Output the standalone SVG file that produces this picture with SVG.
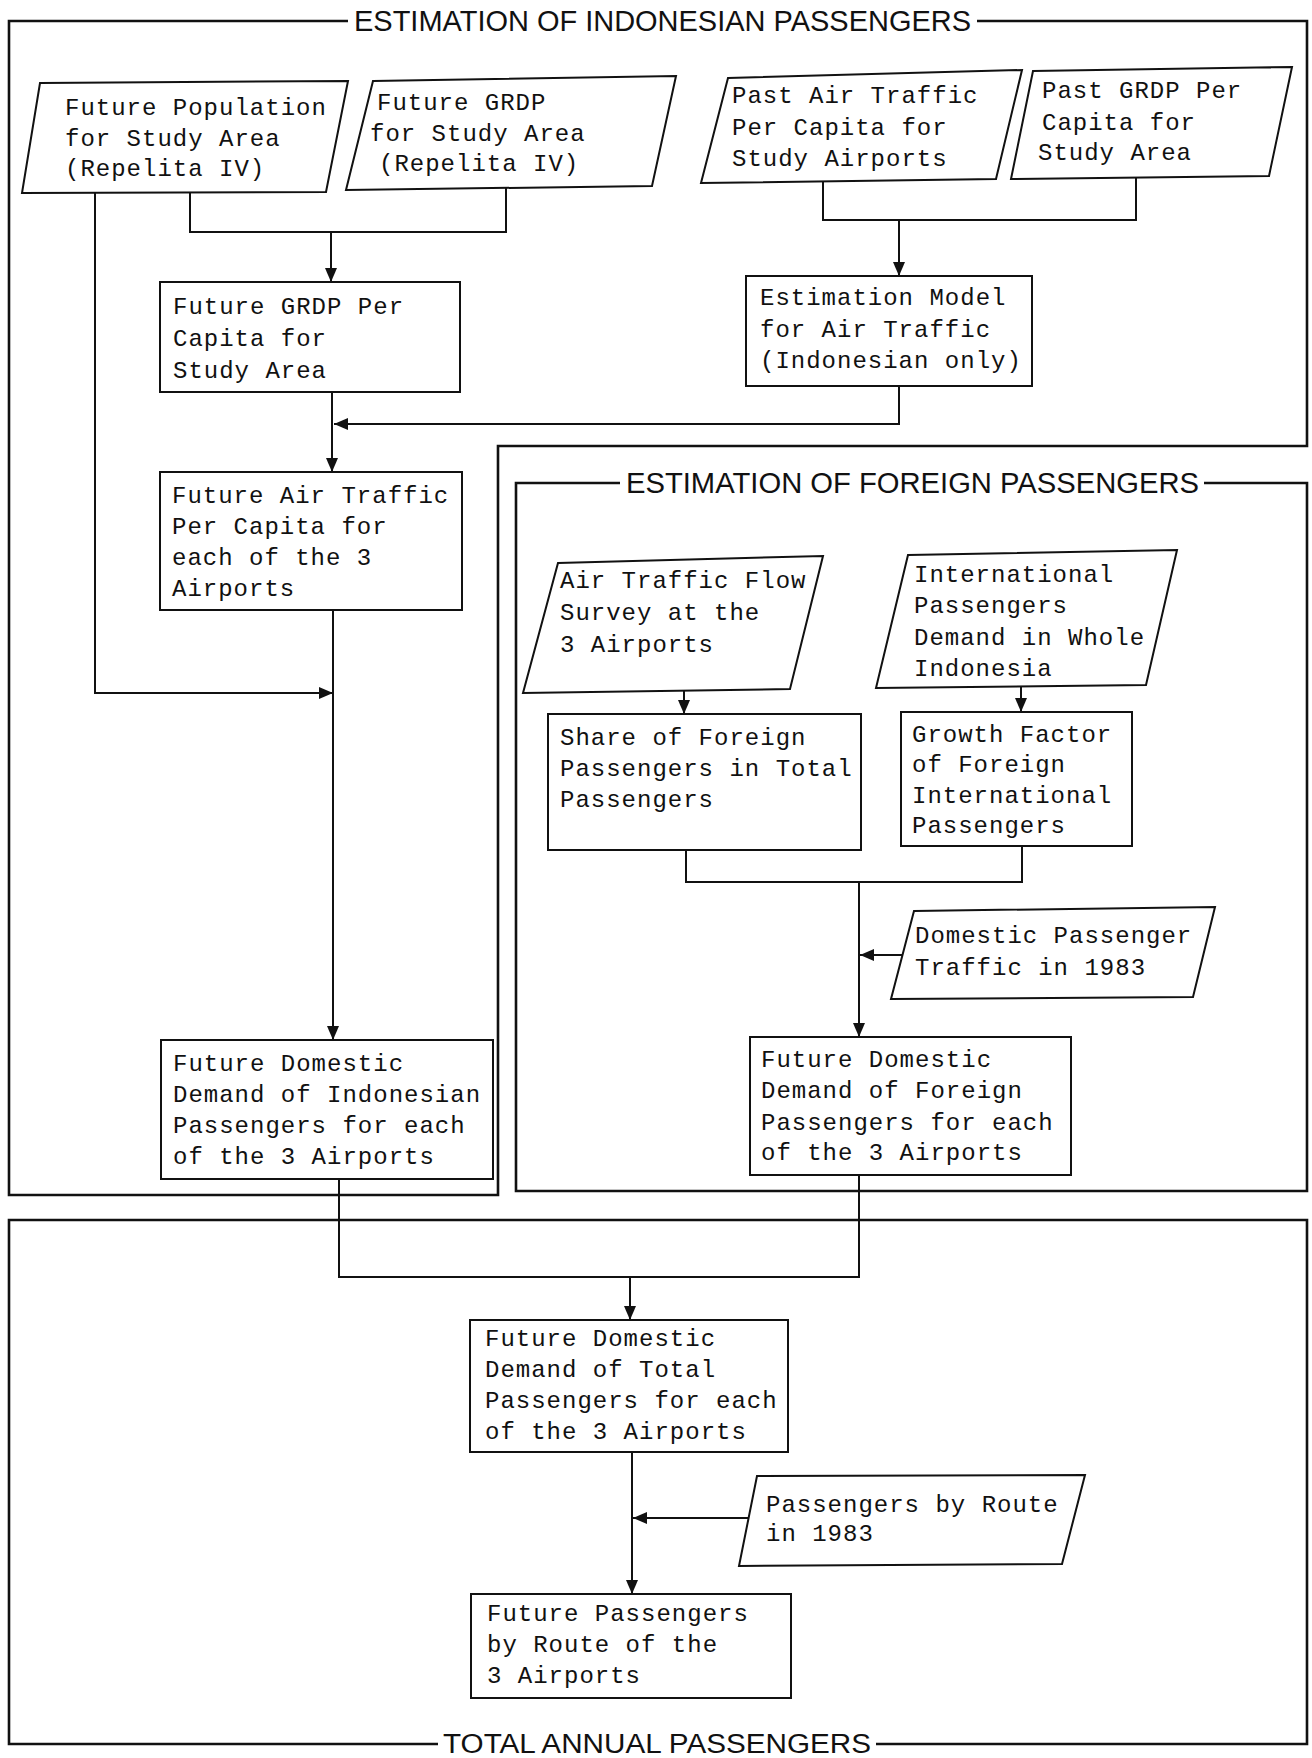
<svg xmlns="http://www.w3.org/2000/svg" width="1312" height="1758" viewBox="0 0 1312 1758">
<defs>
<marker id="ah" markerUnits="userSpaceOnUse" markerWidth="14" markerHeight="12" refX="14" refY="6" orient="auto">
<path d="M0,0 L14,6 L0,12 z" fill="#111"/>
</marker>
<style>
.frame{fill:none;stroke:#111;stroke-width:2.6;stroke-linejoin:miter}
.node{fill:#fff;stroke:#111;stroke-width:2}
.t{font-family:"Liberation Mono","DejaVu Sans Mono",monospace;font-size:24px;letter-spacing:1px;fill:#111}
.title{font-family:"Liberation Sans",Arial,sans-serif;font-size:29px;fill:#111}
.c{fill:none;stroke:#111;stroke-width:2}
.a{marker-end:url(#ah)}
</style>
</defs>
<rect width="1312" height="1758" fill="#fff"/>

<g id="frames">
<g id="frame-indonesian">
<path class="frame" d="M348,21 H9 V1195 H498 V446 H1307 V21 H977"/>
<text class="title" x="354" y="31" textLength="617" lengthAdjust="spacingAndGlyphs">ESTIMATION OF INDONESIAN PASSENGERS</text>
</g>
<g id="frame-foreign">
<path class="frame" d="M620,483 H516 V1191 H1307 V483 H1204"/>
<text class="title" x="626" y="493" textLength="573" lengthAdjust="spacingAndGlyphs">ESTIMATION OF FOREIGN PASSENGERS</text>
</g>
<g id="frame-total">
<path class="frame" d="M438,1744 H9 V1220 H1307 V1744 H876"/>
<text class="title" x="443" y="1753" font-size="27" textLength="428" lengthAdjust="spacingAndGlyphs" style="font-size:27px">TOTAL ANNUAL PASSENGERS</text>
</g>
</g>

<g id="connectors">
<path class="c" d="M190,192 V232 H506 V188"/>
<path class="c a" d="M331,232 V282"/>
<path class="c a" d="M95,193 V693 H333"/>
<path class="c a" d="M332,393 V472"/>
<path class="c" d="M823,181 V220 H1136 V177"/>
<path class="c a" d="M899,220 V276"/>
<path class="c a" d="M899,386 V424 H334"/>
<path class="c a" d="M333,610 V1040"/>
<path class="c" d="M339,1179 V1277 H859 V1175"/>
<path class="c a" d="M630,1277 V1320"/>
<path class="c a" d="M684,691 V714"/>
<path class="c a" d="M1021,687 V712"/>
<path class="c" d="M686,850 V882 H1022 V845"/>
<path class="c a" d="M859,882 V1037"/>
<path class="c a" d="M902,955 H860"/>
<path class="c a" d="M632,1452 V1594"/>
<path class="c a" d="M748,1518 H633"/>
</g>

<g id="n-future-population">
<polygon class="node" points="40,83 348,81 326,192 22,193"/>
<text class="t" x="65" y="115">Future Population</text>
<text class="t" x="65" y="146">for Study Area</text>
<text class="t" x="65" y="176">(Repelita IV)</text>
</g>
<g id="n-future-grdp">
<polygon class="node" points="373,81 676,76 652,186 346,190"/>
<text class="t" x="377" y="110">Future GRDP</text>
<text class="t" x="370" y="141">for Study Area</text>
<text class="t" x="379" y="171">(Repelita IV)</text>
</g>
<g id="n-past-air-traffic">
<polygon class="node" points="728,78 1022,70 996,179 701,183"/>
<text class="t" x="732" y="103">Past Air Traffic</text>
<text class="t" x="732" y="135">Per Capita for</text>
<text class="t" x="732" y="166">Study Airports</text>
</g>
<g id="n-past-grdp">
<polygon class="node" points="1033,71 1292,67 1269,176 1011,179"/>
<text class="t" x="1042" y="98">Past GRDP Per</text>
<text class="t" x="1042" y="130">Capita for</text>
<text class="t" x="1038" y="160">Study Area</text>
</g>
<g id="n-future-grdp-per-capita">
<rect class="node" x="160" y="282" width="300" height="110"/>
<text class="t" x="173" y="314">Future GRDP Per</text>
<text class="t" x="173" y="346">Capita for</text>
<text class="t" x="173" y="378">Study Area</text>
</g>
<g id="n-estimation-model">
<rect class="node" x="746" y="276" width="286" height="110"/>
<text class="t" x="760" y="305">Estimation Model</text>
<text class="t" x="760" y="337">for Air Traffic</text>
<text class="t" x="760" y="368">(Indonesian only)</text>
</g>
<g id="n-future-air-traffic">
<rect class="node" x="160" y="472" width="302" height="138"/>
<text class="t" x="172" y="503">Future Air Traffic</text>
<text class="t" x="172" y="534">Per Capita for</text>
<text class="t" x="172" y="565">each of the 3</text>
<text class="t" x="172" y="596">Airports</text>
</g>
<g id="n-future-domestic-indonesian">
<rect class="node" x="161" y="1040" width="332" height="139"/>
<text class="t" x="173" y="1071">Future Domestic</text>
<text class="t" x="173" y="1102">Demand of Indonesian</text>
<text class="t" x="173" y="1133">Passengers for each</text>
<text class="t" x="173" y="1164">of the 3 Airports</text>
</g>
<g id="n-air-traffic-flow-survey">
<polygon class="node" points="558,563 823,556 790,689 523,693"/>
<text class="t" x="560" y="588">Air Traffic Flow</text>
<text class="t" x="560" y="620">Survey at the</text>
<text class="t" x="560" y="652">3 Airports</text>
</g>
<g id="n-international-passengers">
<polygon class="node" points="908,555 1177,550 1146,685 876,688"/>
<text class="t" x="914" y="582">International</text>
<text class="t" x="914" y="613">Passengers</text>
<text class="t" x="914" y="645">Demand in Whole</text>
<text class="t" x="914" y="676">Indonesia</text>
</g>
<g id="n-share-foreign">
<rect class="node" x="548" y="714" width="313" height="136"/>
<text class="t" x="560" y="745">Share of Foreign</text>
<text class="t" x="560" y="776">Passengers in Total</text>
<text class="t" x="560" y="807">Passengers</text>
</g>
<g id="n-growth-factor">
<rect class="node" x="901" y="712" width="231" height="134"/>
<text class="t" x="912" y="742">Growth Factor</text>
<text class="t" x="912" y="772">of Foreign</text>
<text class="t" x="912" y="803">International</text>
<text class="t" x="912" y="833">Passengers</text>
</g>
<g id="n-domestic-passenger-traffic">
<polygon class="node" points="914,911 1215,907 1193,997 891,999"/>
<text class="t" x="915" y="943">Domestic Passenger</text>
<text class="t" x="915" y="975">Traffic in 1983</text>
</g>
<g id="n-future-domestic-foreign">
<rect class="node" x="750" y="1037" width="321" height="138"/>
<text class="t" x="761" y="1067">Future Domestic</text>
<text class="t" x="761" y="1098">Demand of Foreign</text>
<text class="t" x="761" y="1130">Passengers for each</text>
<text class="t" x="761" y="1160">of the 3 Airports</text>
</g>
<g id="n-future-domestic-total">
<rect class="node" x="470" y="1320" width="318" height="132"/>
<text class="t" x="485" y="1346">Future Domestic</text>
<text class="t" x="485" y="1377">Demand of Total</text>
<text class="t" x="485" y="1408">Passengers for each</text>
<text class="t" x="485" y="1439">of the 3 Airports</text>
</g>
<g id="n-passengers-by-route-1983">
<polygon class="node" points="757,1476 1085,1475 1062,1564 739,1566"/>
<text class="t" x="766" y="1512">Passengers by Route</text>
<text class="t" x="766" y="1541">in 1983</text>
</g>
<g id="n-future-passengers-by-route">
<rect class="node" x="471" y="1594" width="320" height="104"/>
<text class="t" x="487" y="1621">Future Passengers</text>
<text class="t" x="487" y="1652">by Route of the</text>
<text class="t" x="487" y="1683">3 Airports</text>
</g>
</svg>
